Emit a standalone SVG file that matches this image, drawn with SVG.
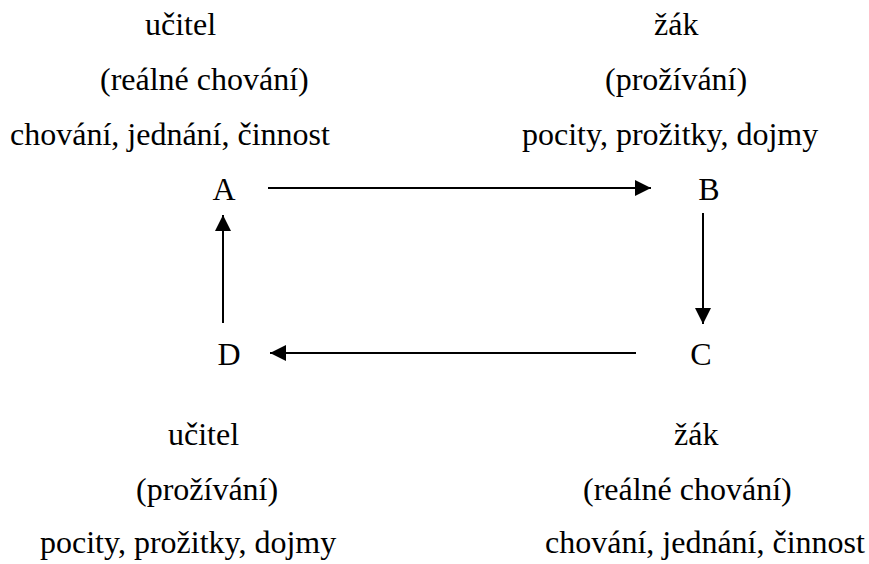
<svg xmlns="http://www.w3.org/2000/svg" width="869" height="564" viewBox="0 0 869 564">
  <defs>
    <marker id="arrow" viewBox="0 0 16 16" refX="16" refY="8" markerWidth="16" markerHeight="16" markerUnits="userSpaceOnUse" orient="auto">
      <path d="M0,0 L16,8 L0,16 Z" fill="#000"/>
    </marker>
  </defs>
  <rect width="869" height="564" fill="#fff"/>

  <!-- teacher: real behaviour -->
  <g id="teacher-behaviour" font-family="Liberation Serif" font-size="32">
    <text x="145" y="35">učitel</text>
    <text x="100" y="90">(reálné chování)</text>
    <text x="10" y="145">chování, jednání, činnost</text>
  </g>

  <!-- pupil: experience -->
  <g id="pupil-experience" font-family="Liberation Serif" font-size="32">
    <text x="654" y="35">žák</text>
    <text x="605" y="90">(prožívání)</text>
    <text x="522" y="145">pocity, prožitky, dojmy</text>
  </g>

  <!-- teacher: experience -->
  <g id="teacher-experience" font-family="Liberation Serif" font-size="32">
    <text x="168" y="445">učitel</text>
    <text x="136" y="500">(prožívání)</text>
    <text x="40" y="553">pocity, prožitky, dojmy</text>
  </g>

  <!-- pupil: real behaviour -->
  <g id="pupil-behaviour" font-family="Liberation Serif" font-size="32">
    <text x="674" y="445">žák</text>
    <text x="583" y="500">(reálné chování)</text>
    <text x="545" y="553">chování, jednání, činnost</text>
  </g>

  <g id="node-A" font-family="Liberation Serif" font-size="32" text-anchor="middle"><text x="224" y="200">A</text></g>
  <g id="node-B" font-family="Liberation Serif" font-size="32" text-anchor="middle"><text x="709" y="200">B</text></g>
  <g id="node-C" font-family="Liberation Serif" font-size="32" text-anchor="middle"><text x="701" y="365">C</text></g>
  <g id="node-D" font-family="Liberation Serif" font-size="32" text-anchor="middle"><text x="229" y="365">D</text></g>

  <g id="connectors" stroke="#000" stroke-width="2" fill="none">
    <line x1="268" y1="188" x2="651" y2="188" marker-end="url(#arrow)"/>
    <line x1="703" y1="213" x2="703" y2="324" marker-end="url(#arrow)"/>
    <line x1="636" y1="353" x2="270" y2="353" marker-end="url(#arrow)"/>
    <line x1="223" y1="323" x2="223" y2="215" marker-end="url(#arrow)"/>
  </g>
</svg>
